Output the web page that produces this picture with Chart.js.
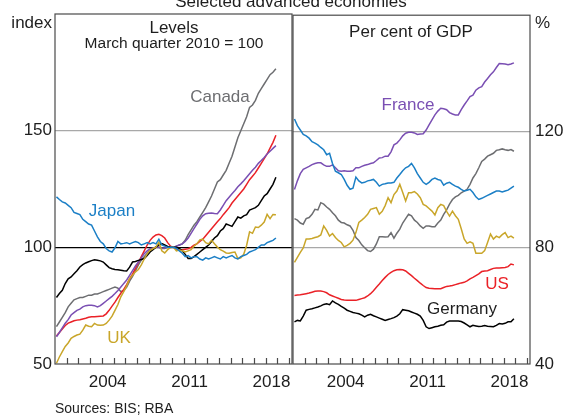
<!DOCTYPE html>
<html><head><meta charset="utf-8">
<script src="https://cdn.jsdelivr.net/npm/chart.js@4/dist/chart.umd.min.js"></script>
<style>
html,body{margin:0;padding:0;background:#fff;}
#wrap{position:relative;width:564px;height:415px;overflow:hidden;background:#fff;}
canvas{position:absolute;left:0;top:0;}
</style></head><body>
<div id="wrap"><canvas id="cl" width="564" height="415"></canvas><canvas id="cr" width="564" height="415"></canvas></div>
<script>
// ---- categories: quarters 2000Q1 .. 2018Q4 ----
const quarters = [];
for (let y = 2000; y <= 2018; y++) for (let q = 1; q <= 4; q++) quarters.push(y + 'Q' + q);
const yearLabels = ['2004', '2011', '2018'];
const yearTickMarks = [2001,2002,2003,2004,2005,2006,2007,2008,2009,2010,2011,2012,2013,2014,2015,2016,2017,2018,2019,2020];
const levelTicks = [50, 100, 150];
const gdpTicks = [40, 80, 120];

// ---- Levels (index, March quarter 2010 = 100) ----
const levelsCanada = [
66,68,70,72, 74.5,76,77.5,78, 78.5,78.5,79,79.5, 79.5,80,80,80.5,
81,81.5,82,82.5, 83,82.5,81,81.5, 83,85.5,87.5,90, 92.5,94.5,96,97.5,
99,99.5,100,100, 99.5,99.5,100,100, 100,100.5,101,101.5, 103,105.5,107.5,109.5,
111,113,115,117, 119.5,122,125,128, 129,131,133,136, 139,143,147,150,
153,156,160,161, 163,166,168,170, 172,174,175,176.5];
const levelsFrance = [
61.7,63.5,65.5,67.5, 69,71,72,73, 73.5,74.5,75,75.2, 75.2,75,74.5,75,
76,77,78,79, 80.2,81.5,83,84.5, 86,88,90,92, 93.7,95.5,97.3,98.5,
99.4,99.7,100,100, 99.6,99.8,100.2,100.1, 100,100.5,101,101.5, 102.5,104,106,108,
110,112,113.5,114.4, 114.6,114.7,114.5,114.4, 116,118,120,121.5, 123,124.4,126,127.2,
128.5,130,131.5,133, 134.3,136,137.2,138.5, 140,141.2,142.4,143.6];
const levelsUS = [
62,63.5,65,66.5, 67.5,68,68.5,68.8, 69,69.3,69.6,70, 70.2,70.3,70.4,70.5,
70.6,71.5,73,74.8, 76.5,78.5,80.3,82, 84,86.5,88.5,91, 93.5,96,98.5,101,
103,104.4,105.3,105.6, 105,104,102,100.5, 100,99.3,99,99, 99.2,99.4,100,100.9,
101.5,102.5,103.5,105, 106.5,108,109.5,111, 112.3,114,115.5,117, 119,120.5,122,123.5,
125,127,129,130.5, 132,134,136,138, 140,142.5,145,148];
const levelsGermany = [
78.5,80.2,81.6,84.5, 86.5,87.3,88.7,90, 91.6,92.6,93.3,93.8, 94.3,94.7,94.5,94.2,
93.7,92.5,91.3,90.8, 90.5,90.4,90.2,90, 89.9,91.5,93.7,93.9, 94.4,94.8,95.2,96.5,
98,99,100.1,101, 101.6,101,100.4,100.2, 100,100,99.5,98.5, 97,95.2,95.2,96,
97,98,99,100, 101,102.5,104,105, 107,108,110,109.5, 109,111,113,112.5,
113.5,114,116,116.5, 117,118,120,122, 123,125,127,130];
const levelsUK = [
50.3,53,55.3,57.5, 59,61,61.8,62.4, 62.8,64.5,66.7,66.2, 66,67.4,66.7,66.6,
66.7,67.4,68.8,70.5, 73,75.5,78.8,81, 83.5,86.6,88,89.5, 90.5,92.5,95,97.2,
98.7,99.5,100.1,102.3, 98.5,97.6,99,100, 100,98.5,98.8,98.5, 98,98.5,99,100.5,
101.6,103.2,103.5,102, 101.5,103,101.5,100.1, 99,98.4,97.6,97.5, 97.8,98,95.2,95.5,
97,100.9,106.6,106, 108.7,108.5,109.5,110.8, 114.1,112.3,114.1,114];
const levelsJapan = [
121.6,120.5,119.5,119, 118,117,115,114.5, 114,112,111,110, 109.5,107,104.5,102.5,
101.5,99.5,98.5,98, 99.8,102.5,101.5,101.7, 102,101.5,102,102.5, 102,101,101.5,102,
101.5,102,101.5,103.5, 101,100.5,100,100, 100,99.5,98.5,97.5, 96,96.5,95.5,96,
96,95,94.5,95.5, 95,95.5,96,95.5, 95,96,95.5,96, 96.5,95.5,95,96,
96.5,97,98,98.5, 99,100,101,101, 102,102.5,103,104];

// ---- Per cent of GDP ----
const gdpFrance = [
100,103,105.5,107, 107.5,108,108.6,109, 109.2,109.2,108.5,108, 108,108.5,107.5,106.5,
106.3,106.5,106.3,106.3, 106.5,107.5,107.5,108, 108.4,108.6,109,109.2, 110,110.9,111,111.5,
111.5,113,115.4,116, 117.1,118.5,119.4,119.7, 119.7,119.5,119,119.1, 119.2,120.5,122.3,124,
125.7,127,128,127.8, 127.5,126.5,126,125.7, 125.7,127.5,129.1,130.5, 132,132.5,134.2,135,
135.4,137,138.2,139.5, 140.5,142,143.4,143.3, 143.2,143,143.2,143.6];
const gdpJapan = [
124.3,122,120.5,119, 118.5,117.7,116.5,116, 115.4,114.5,113.7,112, 112.5,109,106.3,105.8,
105.2,103.5,101.5,100.1, 100.5,104.3,103,102.3, 102.5,103,103.2,103.5, 102.5,101.2,101.8,102,
102.3,102.3,102.5,104, 105.2,106.5,107.5,108, 109,107.5,105.5,104, 102.5,101.8,102.5,103.5,
104,103.5,103.2,101.5, 102.2,102.5,101.8,101.2, 100.8,100.1,99.5,99.8, 100.1,99,97.5,96.6,
97,97.5,98,98.5, 99,99.5,99.5,99.2, 99.5,99.8,100.5,101.2];
const gdpCanada = [
90,89.5,88.5,88.1, 90,90.4,91.5,93.2, 93,95.5,95,94, 93.2,92,91,89.5,
88.7,88.5,87.9,87.5, 86,83.5,82.5,81, 80,79,78.7,79.5, 81.3,83.8,83.8,83.7,
83.8,85.2,83.3,85, 86.4,88.5,90,91.5, 91,89.5,88.7,87.5, 86.7,87.5,87.5,87.2,
87.2,88.5,89.5,91.5, 93,95,96.6,97.5, 98,98.9,99.5,100.1, 101.8,104,105.5,107.5,
109.7,110.5,111.5,112, 112.5,113.5,113.7,114, 113.7,113.5,113.8,113.2];
const gdpUK = [
75,76.7,78.4,79.9, 83,83,83.2,83.5, 83.8,84.4,87.5,86, 84,84.9,83.5,82.5,
81.8,80.3,80.8,81.5, 82.6,85.2,88.7,89.5, 90.4,91.5,93.2,93.5, 93.8,91.5,92.5,94.5,
97.2,95.5,98.3,99.5, 101.8,99,96.1,98.9, 98.9,99.3,98.5,97.2, 94.9,94.4,93.5,92.6,
91.3,93.8,94.9,94.5, 92.5,90.9,92.6,91, 89.8,86.5,83,81.5, 82,81.5,78.1,78.1,
78.1,79,81.8,84.7, 83,84,83.5,84.5, 85.2,83.5,84,83.3];
const gdpUS = [
63.6,63.7,63.8,64, 64.2,64.4,64.7,65, 65.1,65.1,64.9,64.5, 63.8,63.4,63,62.6,
62.2,62,61.9,61.9, 61.9,61.9,62.2,62.5, 62.8,63.4,64.2,65.2, 66.4,67.5,68.7,69.8,
70.8,71.5,72.1,72.4, 72.5,72.4,72,71.2, 70.4,69.5,68.7,67.8, 67,66.3,66.1,66,
65.9,65.9,65.9,66.3, 66.7,66.8,67,67.3, 67.6,67.9,68.1,68.6, 69.3,69.8,70.4,71,
71.8,72,72.1,72.5, 72.9,73,73,73.1, 73.2,73.5,74.4,74.1];
const gdpGermany = [
54.5,55,54.8,56.5, 58.5,58.8,59,59.3, 59.6,60,60.5,60.7, 60.4,61.7,61,60.5,
59.8,59.2,58.5,58.1, 57.7,57.5,57.3,56.8, 56.2,56.8,57.1,56.6, 56.2,55.8,55.4,55,
55.3,55.6,55.95,56.5, 57.3,58.7,58.5,58.3, 57.9,57.5,57.1,56.5, 55,52.8,52.2,52.5,
52.8,53,53.3,53.5, 54.4,54.8,54.8,54.8, 54.8,54.6,54.1,53.5, 52.8,53.3,53.1,52.9,
53,53.2,53,52.9, 52.8,53.3,53.9,53.8, 54,54.5,54.5,55.6];

// ---- styling ----
const C = {canada:'#6d6e71', france:'#7a4fb3', us:'#ea2127', germany:'#000000', uk:'#c9a62a', japan:'#1b7fc6'};
const FONT = '"Liberation Sans", Arial, sans-serif';
const TXT = '#1e1e1e';

function qx(q){ const y = +q.slice(0,4), n = +q.slice(5); return y + (n - 0.5) / 4; }
function series(vals){ return vals.map((v,i)=>({x: qx(quarters[i]), y: v})); }
function ds(label, vals, color){ return {label, data: series(vals), borderColor: color, borderWidth: 1.5, pointRadius: 0, tension: 0, fill: false}; }

function xScale(){
  return {
    type:'linear', min:2000, max:2020.25,
    afterBuildTicks: s => { s.ticks = yearLabels.map(l => ({value: +l + 0.5})); },
    afterFit: s => { s.height = 51; },
    ticks:{ callback: v => String(Math.floor(v)), font:{family:FONT, size:17}, color:TXT, padding:8, maxRotation:0, autoSkip:false },
    grid:{ display:false, drawTicks:false }, border:{display:false}
  };
}

function frameAndTicks(chart){
  const {ctx, chartArea:a, scales} = chart;
  ctx.save();
  ctx.strokeStyle = '#4a4a4a'; ctx.lineWidth = 1.2;
  ctx.beginPath();
  yearTickMarks.forEach(y => { const px = Math.round(scales.x.getPixelForValue(y)) + 0.5; ctx.moveTo(px, a.bottom); ctx.lineTo(px, a.bottom - 6); });
  ctx.stroke();
  ctx.strokeRect(a.left, a.top, a.right - a.left, a.bottom - a.top);
  ctx.restore();
}
function txt(ctx, s, x, y, color, size, align){
  ctx.fillStyle = color; ctx.font = size + 'px ' + FONT; ctx.textAlign = align || 'center'; ctx.textBaseline = 'middle';
  ctx.fillText(s, x, y);
}

const leftPlugin = { id:'leftDecor', afterDraw(chart){
  frameAndTicks(chart);
  const ctx = chart.ctx; ctx.save();
  ctx.fillStyle = TXT; ctx.font = '17px ' + FONT; ctx.textAlign = 'center'; ctx.textBaseline = 'alphabetic';
  ctx.fillText('Selected advanced economies', 291, 7);
  txt(ctx, 'Levels', 174, 28, TXT, 17);
  txt(ctx, 'March quarter 2010 = 100', 174, 44, TXT, 15.5);
  txt(ctx, 'index', 52, 23, TXT, 17, 'right');
  txt(ctx, 'Canada', 220, 97, C.canada, 17);
  txt(ctx, 'Japan', 112, 211, C.japan, 17);
  txt(ctx, 'UK', 119, 338, C.uk, 17);
  txt(ctx, 'Sources: BIS; RBA', 55, 409, TXT, 14, 'left');
  ctx.restore();
}};
const rightPlugin = { id:'rightDecor', afterDraw(chart){
  frameAndTicks(chart);
  const ctx = chart.ctx; ctx.save();
  txt(ctx, 'Per cent of GDP', 411, 32, TXT, 17);
  txt(ctx, '%', 535, 23, TXT, 17, 'left');
  txt(ctx, 'France', 408, 105, C.france, 17);
  txt(ctx, 'US', 497, 284, C.us, 17);
  txt(ctx, 'Germany', 462, 309, TXT, 17);
  ctx.restore();
}};

new Chart(document.getElementById('cl'), {
  type:'line',
  data:{ datasets:[
    ds('Japan', levelsJapan, C.japan),
    ds('UK', levelsUK, C.uk),
    ds('Germany', levelsGermany, C.germany),
    ds('France', levelsFrance, C.france),
    ds('US', levelsUS, C.us),
    ds('Canada', levelsCanada, C.canada)
  ]},
  options:{
    responsive:false, animation:false, devicePixelRatio:1,
    layout:{ padding:{left:0, right:272, top:14, bottom:0} },
    plugins:{ legend:{display:false}, tooltip:{enabled:false} },
    scales:{
      x: xScale(),
      y:{ position:'left', min:50, max:200,
        afterBuildTicks: s => { s.ticks = levelTicks.concat([200]).map(v => ({value:v})); },
        afterFit: s => { s.width = 55; },
        ticks:{ callback: v => levelTicks.includes(v) ? String(v) : '', font:{family:FONT, size:17}, color:TXT, padding:3 },
        grid:{ drawTicks:false, lineWidth:1.2, color: c => c.tick && c.tick.value === 100 ? '#000' : (c.tick && c.tick.value === 150 ? '#a8a8a8' : 'rgba(0,0,0,0)') },
        border:{display:false}
      }
    }
  },
  plugins:[leftPlugin]
});

new Chart(document.getElementById('cr'), {
  type:'line',
  data:{ datasets:[
    ds('Japan', gdpJapan, C.japan),
    ds('UK', gdpUK, C.uk),
    ds('Canada', gdpCanada, C.canada),
    ds('France', gdpFrance, C.france),
    ds('US', gdpUS, C.us),
    ds('Germany', gdpGermany, C.germany)
  ]},
  options:{
    responsive:false, animation:false, devicePixelRatio:1,
    layout:{ padding:{left:293, right:0, top:14, bottom:0} },
    plugins:{ legend:{display:false}, tooltip:{enabled:false} },
    scales:{
      x: xScale(),
      y:{ position:'right', min:40, max:160,
        afterBuildTicks: s => { s.ticks = gdpTicks.concat([160]).map(v => ({value:v})); },
        afterFit: s => { s.width = 34; },
        ticks:{ callback: v => gdpTicks.includes(v) ? String(v) : '', font:{family:FONT, size:17}, color:TXT, padding:5 },
        grid:{ drawTicks:false, lineWidth:1.2, color: c => c.tick && (c.tick.value === 120 || c.tick.value === 80) ? '#a8a8a8' : 'rgba(0,0,0,0)' },
        border:{display:false}
      }
    }
  },
  plugins:[rightPlugin]
});
</script>
</body></html>
